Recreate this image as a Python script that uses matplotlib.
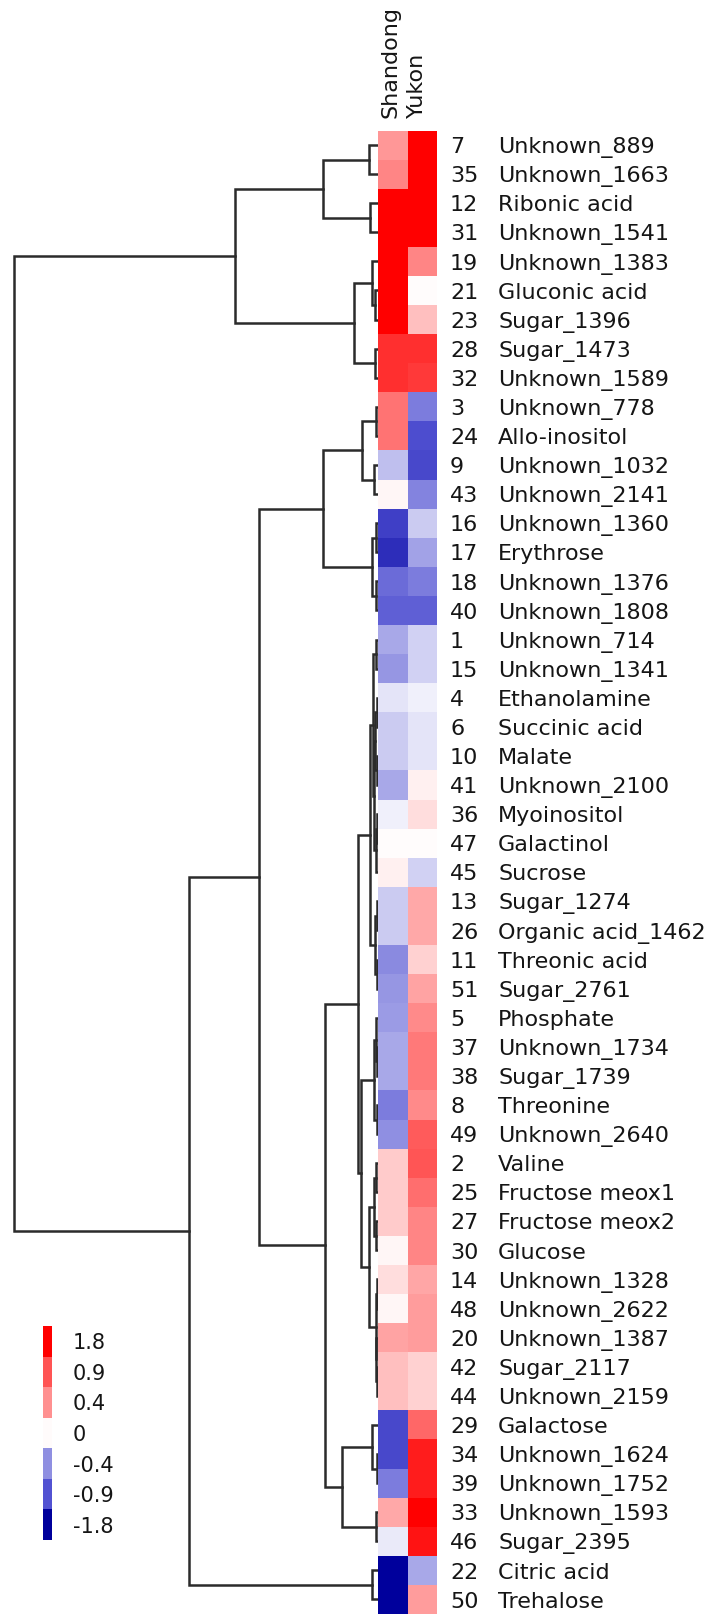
import numpy as np
import matplotlib
import matplotlib.pyplot as plt
from matplotlib.colors import LinearSegmentedColormap, Normalize
from matplotlib.transforms import blended_transform_factory

plt.rcParams['font.family'] = ['DejaVu Sans']

# metabolite number and name, top to bottom in cluster order
IDS = [7, 35, 12, 31, 19, 21, 23, 28, 32, 3, 24, 9, 43, 16, 17, 18, 40, 1, 15, 4,
       6, 10, 41, 36, 47, 45, 13, 26, 11, 51, 5, 37, 38, 8, 49, 2, 25, 27, 30, 14,
       48, 20, 42, 44, 29, 34, 39, 33, 46, 22, 50]
NAMES = ['Unknown_889', 'Unknown_1663', 'Ribonic acid', 'Unknown_1541', 'Unknown_1383',
         'Gluconic acid', 'Sugar_1396', 'Sugar_1473', 'Unknown_1589', 'Unknown_778',
         'Allo-inositol', 'Unknown_1032', 'Unknown_2141', 'Unknown_1360', 'Erythrose',
         'Unknown_1376', 'Unknown_1808', 'Unknown_714', 'Unknown_1341', 'Ethanolamine',
         'Succinic acid', 'Malate', 'Unknown_2100', 'Myoinositol', 'Galactinol',
         'Sucrose', 'Sugar_1274', 'Organic acid_1462', 'Threonic acid', 'Sugar_2761',
         'Phosphate', 'Unknown_1734', 'Sugar_1739', 'Threonine', 'Unknown_2640',
         'Valine', 'Fructose meox1', 'Fructose meox2', 'Glucose', 'Unknown_1328',
         'Unknown_2622', 'Unknown_1387', 'Sugar_2117', 'Unknown_2159', 'Galactose',
         'Unknown_1624', 'Unknown_1752', 'Unknown_1593', 'Sugar_2395', 'Citric acid',
         'Trehalose']
SITES = ['Shandong', 'Yukon']
SHANDONG = [0.35, 0.5, 1.8, 1.8, 1.8, 1.8, 1.8, 1.3, 1.3, 0.65,
            0.65, -0.15, 0.02, -1.1, -1.3, -0.7, -0.8, -0.2, -0.35, -0.06,
            -0.12, -0.12, -0.2, -0.03, 0.0, 0.03, -0.12, -0.12, -0.45, -0.35,
            -0.3, -0.2, -0.2, -0.55, -0.4, 0.12, 0.12, 0.12, 0.02, 0.08,
            0.02, 0.25, 0.15, 0.15, -1.0, -1.0, -0.55, 0.2, -0.05, -1.8, -1.8]
YUKON = [1.8, 1.8, 1.8, 1.8, 0.5, 0.0, 0.15, 1.3, 1.2, -0.55,
         -0.95, -1.0, -0.5, -0.12, -0.25, -0.55, -0.8, -0.1, -0.1, -0.04,
         -0.06, -0.06, 0.03, 0.08, 0.0, -0.1, 0.2, 0.2, 0.1, 0.25,
         0.45, 0.6, 0.6, 0.45, 0.85, 0.9, 0.7, 0.5, 0.5, 0.22,
         0.3, 0.3, 0.1, 0.1, 0.75, 1.5, 1.5, 1.8, 1.6, -0.2, 0.3]
LEGEND_STEPS = [1.8, 0.9, 0.4, 0, -0.4, -0.9, -1.8]

# clustering tree, built from subtrees: (left, right, merge distance),
# plain ints are row indices
RED_TOP = ((0, 1, 9), (2, 3, 8), 55)
RED_LOW = ((4, (5, 6, 3), 6), (7, 8, 3), 24)
RED = (RED_TOP, RED_LOW, 143)
BLUE = (((9, 10, 2), (11, 12, 4), 16), ((13, 14, 2), (15, 16, 2), 6), 55)
MID_A1 = ((17, 18, 2), (((19, 20, 1.5), (21, 22, 1.5), 3), ((23, 24, 1), 25, 2), 4), 5)
MID_A2 = ((26, 27, 1), (28, 29, 1.5), 3)
MID_B1 = ((30, (31, 32, 1), 2), (33, 34, 1.5), 4)
MID_B2 = (((35, 36, 2), (37, 38, 2), 4), ((39, 40, 1.5), (41, (42, 43, 1), 2), 2.5), 9)
MID = ((MID_A1, MID_A2, 8), (MID_B1, MID_B2, 17), 20)
YUKON_HI = ((44, (45, 46, 1.5), 6), (47, 48, 2.5), 36)
LOWER = (((BLUE, (MID, YUKON_HI, 53), 119)), (49, 50, 6), 189)
TREE = (RED, LOWER, 364)

W, H = 705, 1614
TOP = 130.5


def rect(x0, y0, x1, y1):
    return [x0 / W, 1 - y1 / H, (x1 - x0) / W, (y1 - y0) / H]


cmap = LinearSegmentedColormap.from_list('rb', [
    (0.0, '#00009c'), (0.25, '#5252d2'), (0.444, '#a8a8e8'), (0.5, '#ffffff'),
    (0.556, '#ffa8a8'), (0.75, '#ff5656'), (1.0, '#ff0000')])
norm = Normalize(-1.8, 1.8)

fig = plt.figure(figsize=(W / 100, H / 100), dpi=100)
ax_d = fig.add_axes(rect(0, TOP, 378, H))
ax_h = fig.add_axes(rect(378, TOP, 437, H))

n = len(NAMES)


def draw(node):
    if isinstance(node, int):
        return node + 0.5, 0.0
    a, b, h = node
    ya, ha = draw(a)
    yb, hb = draw(b)
    ax_d.plot([ha, h, h, hb], [ya, ya, yb, yb], color='#2b2b2b', lw=1.8,
              solid_joinstyle='miter', clip_on=False)
    return (ya + yb) / 2, h


draw(TREE)
ax_d.set_xlim(378, 0)
ax_d.set_ylim(n, 0)
ax_d.axis('off')

data = np.column_stack([SHANDONG, YUKON])
ax_h.pcolormesh(np.arange(3), np.arange(n + 1), data, cmap=cmap, norm=norm)
ax_h.set_xlim(0, 2)
ax_h.set_ylim(n, 0)
ax_h.axis('off')

tr = blended_transform_factory(fig.transFigure, ax_h.transData)
for i, (num, name) in enumerate(zip(IDS, NAMES)):
    ax_h.text(450 / W, i + 0.78, str(num), transform=tr, ha='left', va='baseline',
              fontsize=16, color='#151515')
    ax_h.text(498 / W, i + 0.78, name, transform=tr, ha='left', va='baseline',
              fontsize=16, color='#151515')

for j, site in enumerate(SITES):
    fig.text((400 + 27 * j) / W, 1 - 118 / H, site, rotation=90, ha='right',
             va='bottom', fontsize=16, color='#151515')

# stepped colour key
ax_l = fig.add_axes(rect(43, 1326, 52, 1540))
ax_l.imshow(np.array(LEGEND_STEPS)[:, None], cmap=cmap, norm=norm, aspect='auto',
            extent=(0, 1, len(LEGEND_STEPS), 0))
ax_l.axis('off')
tl = blended_transform_factory(fig.transFigure, ax_l.transData)
for k, v in enumerate(LEGEND_STEPS):
    ax_l.text(73 / W, k + 0.76, f'{v:g}', transform=tl, ha='left', va='baseline',
              fontsize=15, color='#151515')

fig.savefig('out.png', dpi=100, facecolor='white')
